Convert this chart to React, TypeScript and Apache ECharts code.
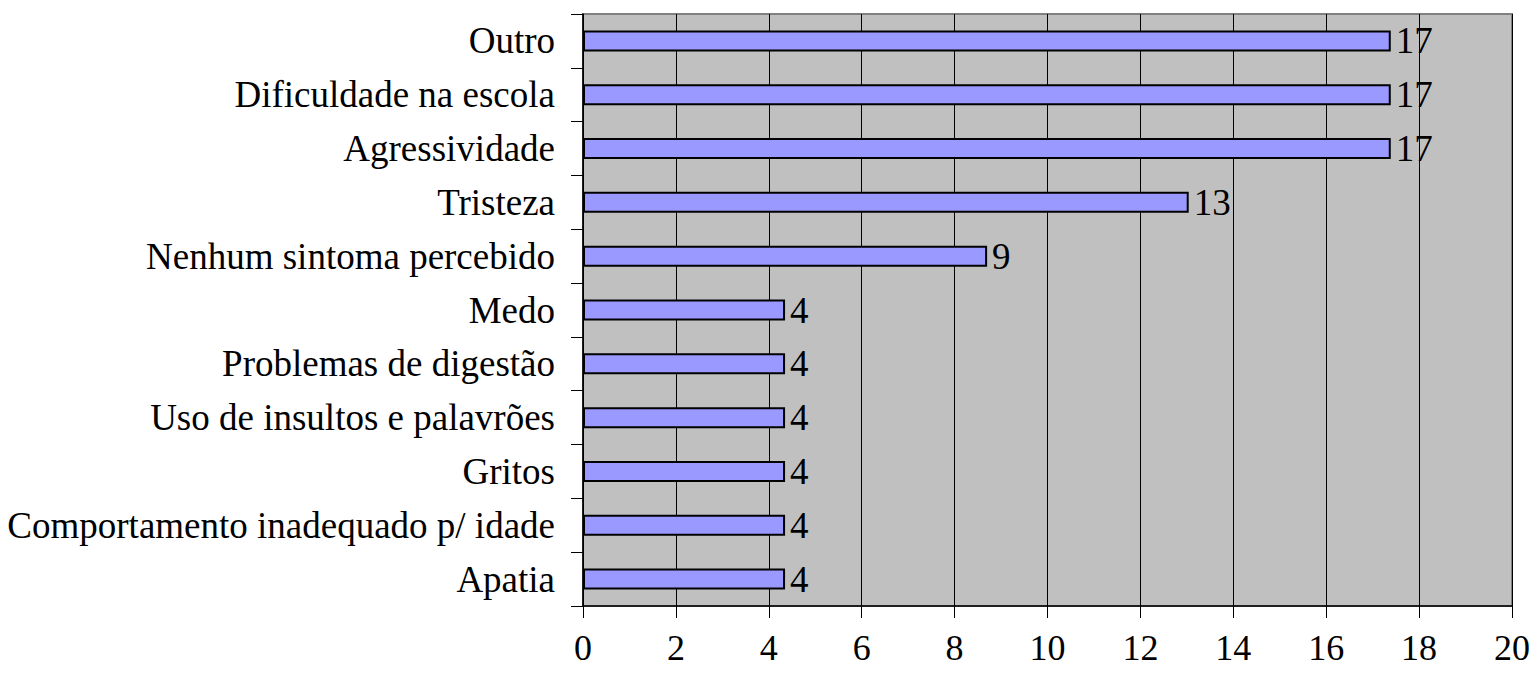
import React, { useEffect, useRef } from "react";
import * as echarts from "echarts";

const categories = [
  "Outro",
  "Dificuldade na escola",
  "Agressividade",
  "Tristeza",
  "Nenhum sintoma percebido",
  "Medo",
  "Problemas de digestão",
  "Uso de insultos e palavrões",
  "Gritos",
  "Comportamento inadequado p/ idade",
  "Apatia",
];

const values = [17.39, 17.39, 17.39, 13.04, 8.7, 4.35, 4.35, 4.35, 4.35, 4.35, 4.35];

const xTicks = { min: 0, max: 20, interval: 2 };

const FONT = "'Liberation Serif', 'Times New Roman', serif";

export default function App() {
  const ref = useRef<HTMLDivElement>(null);
  useEffect(() => {
    if (!ref.current) return;
    const chart = echarts.init(ref.current, undefined, { renderer: "svg" });
    chart.setOption({
      animation: false,
      backgroundColor: "#ffffff",
      grid: {
        left: 583,
        right: 21,
        top: 14,
        bottom: 67,
        show: true,
        backgroundColor: "#C0C0C0",
        borderColor: "#808080",
        borderWidth: 2,
        containLabel: false,
      },
      xAxis: {
        type: "value",
        min: xTicks.min,
        max: xTicks.max,
        interval: xTicks.interval,
        axisLine: { show: true, lineStyle: { color: "#000", width: 1.5 } },
        axisTick: { show: true, length: 12, lineStyle: { color: "#000", width: 1 } },
        axisLabel: {
          margin: 24,
          color: "#000",
          fontFamily: FONT,
          fontSize: 36,
        },
        splitLine: { show: true, lineStyle: { color: "#000", width: 1 } },
      },
      yAxis: {
        type: "category",
        data: categories,
        inverse: true,
        axisLine: { show: true, lineStyle: { color: "#000", width: 1.5 } },
        axisTick: { show: true, length: 12, lineStyle: { color: "#000", width: 1 } },
        axisLabel: {
          margin: 28,
          color: "#000",
          fontFamily: FONT,
          fontSize: 37,
        },
        splitLine: { show: false },
      },
      series: [
        {
          type: "bar",
          data: values,
          barWidth: 21,
          itemStyle: { color: "#9999FF", borderColor: "#000", borderWidth: 2 },
          label: {
            show: true,
            position: "right",
            distance: 5,
            color: "#000",
            fontFamily: FONT,
            fontSize: 37,
            formatter: (p: any) => String(Math.round(p.value)),
          },
        },
      ],
    });
    return () => chart.dispose();
  }, []);
  return (
    <div
      ref={ref}
      style={{ position: "fixed", left: 0, top: 0, width: 1533, height: 673 }}
    />
  );
}
